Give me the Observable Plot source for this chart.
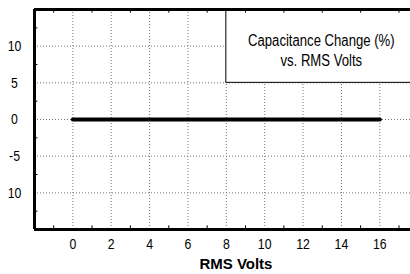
<!DOCTYPE html>
<html>
<head>
<meta charset="utf-8">
<script src="https://cdn.jsdelivr.net/npm/d3@7"></script>
<script src="https://cdn.jsdelivr.net/npm/@observablehq/plot@0.6"></script>
<style>
  html, body { margin: 0; padding: 0; background: #fff; }
  #chart svg { display: block; }
</style>
</head>
<body>
<div id="chart"></div>
<script>
// Data
const volts = [0, 16];
const capChange = [0, 0];
const xTicks = [0, 2, 4, 6, 8, 10, 12, 14, 16];
const xMinorTicks = [-1, 1, 3, 5, 7, 9, 11, 13, 15, 17];
const yTicks = [10, 5, 0, -5, -10];
const yTickLabels = ["10", "5", "0", "-5", "10"];
const yMinorTicks = [12.5, 7.5, 2.5, -2.5, -7.5, -12.5];
const legendLines = ["Capacitance Change (%)", "vs. RMS Volts"];
const xLabel = "RMS Volts";

const series = volts.map((v, i) => ({v, c: capChange[i]}));
const yLabelMap = new Map(yTicks.map((t, i) => [t, yTickLabels[i]]));

const X0 = -2, X1 = 17.6, Y0 = -15, Y1 = 15;
const font = "'Liberation Sans', Arial, sans-serif";
const grid = {stroke: "#777", strokeOpacity: 1, strokeWidth: 1, strokeDasharray: "1,2"};

const chart = Plot.plot({
  width: 410,
  height: 274,
  marginLeft: 34,
  marginRight: 0,
  marginTop: 9,
  marginBottom: 45,
  style: {fontFamily: font, fontSize: "15px", color: "#000", background: "#fff"},
  x: {domain: [X0, X1]},
  y: {domain: [Y0, Y1]},
  marks: [
    Plot.gridX(xTicks, grid),
    Plot.gridY(yTicks, grid),
    Plot.rect([0], {x1: 8, x2: 19, y1: 5, y2: Y1, fill: "#fff", stroke: "#000", strokeWidth: 1, clip: "frame"}),
    Plot.text([legendLines.join("\n")], {x: 12.95, y: 9.55, text: d => d, fontSize: 16, lineHeight: 1.25, fill: "#000", textAnchor: "middle"}),
    Plot.line(series, {x: "v", y: "c", stroke: "#000", strokeWidth: 4}),
    Plot.ruleX(xMinorTicks, {y1: Y0, y2: Y0 + 0.5, stroke: "#000", strokeWidth: 1}),
    Plot.ruleX(xMinorTicks, {y1: Y1, y2: Y1 - 0.5, stroke: "#000", strokeWidth: 1}),
    Plot.ruleY(yMinorTicks, {x1: X0, x2: X0 + 0.18, stroke: "#000", strokeWidth: 1}),
    Plot.ruleX([X0], {stroke: "#000", strokeWidth: 3}),
    Plot.ruleY([Y1], {stroke: "#000", strokeWidth: 3}),
    Plot.ruleY([Y0], {stroke: "#000", strokeWidth: 3}),
    Plot.axisX(xTicks, {tickSize: 0, tickPadding: 9, fontSize: 15, label: null}),
    Plot.axisY(yTicks, {tickSize: 0, tickPadding: 20, textAnchor: "middle", fontSize: 15, label: null, tickFormat: d => yLabelMap.get(d)}),
    Plot.text([xLabel], {x: 8.5, frameAnchor: "bottom", dy: 39, text: d => d, fontWeight: "bold", fontSize: 15, fill: "#000"})
  ]
});

// Condense the regular (Arial Narrow-like) texts horizontally
d3.select(chart).selectAll("text").each(function () {
  if (this.textContent === xLabel) return;
  const x = +this.getAttribute("x") || 0;
  const y = +this.getAttribute("y") || 0;
  const t = this.getAttribute("transform") || "";
  this.setAttribute("transform", `${t} translate(${x},${y}) scale(0.82,1) translate(${-x},${-y})`);
});

document.getElementById("chart").appendChild(chart);
</script>
</body>
</html>
